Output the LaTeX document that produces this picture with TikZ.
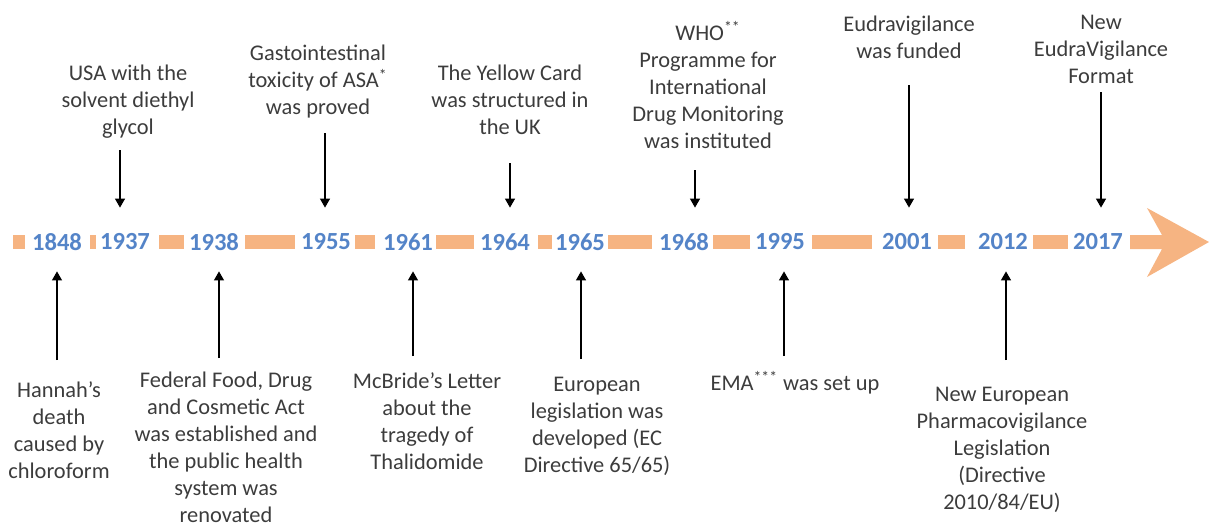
\documentclass[tikz,border=0pt]{standalone}
\usepackage{fontspec}
\setmainfont{Carlito}
\usetikzlibrary{arrows.meta}
\definecolor{bandorange}{RGB}{246,180,130}
\definecolor{yearblue}{RGB}{84,132,200}
\definecolor{notegray}{RGB}{60,60,60}

\begin{document}
\begin{tikzpicture}[x=0.5pt, y=-0.5pt,
    year/.style={font=\fontsize{12.3}{14}\selectfont\bfseries, text=yearblue, inner sep=0pt, minimum height=25pt},
    event/.style={align=center, text=notegray, inner sep=0pt, font=\fontsize{11.2}{13.5}\selectfont},
    band/.style={fill=bandorange},
    toparrow/.style={-{Triangle[width=5pt,length=4.5pt]}, line width=0.6pt, shorten >=4.5pt},
    botarrow/.style={-{Triangle[width=5pt,length=4.5pt]}, line width=0.6pt, shorten >=2pt},
]
    \useasboundingbox (0,0) rectangle (1209,525);

    \foreach \a/\b in {13/25, 90/96, 159/184, 245/295, 355/375, 436/474, 538/552, 608/652, 713/750, 812/872, 938/965, 1033/1068}
        \fill[band] (\a,235) rectangle (\b,249);
    \fill[band] (1130,235) -- (1162,235) -- (1147,208) -- (1209,242) -- (1147,277) -- (1162,249) -- (1130,249) -- cycle;

    \foreach \yr/\x in {1848/57, 1937/125, 1938/214, 1955/326, 1961/408, 1964/505, 1965/580, 1968/684, 1995/780, 2001/907, 2012/1003, 2017/1098}
        \node[year] (y\yr) at (\x,242) {\yr};

    \node[event] (t1937) at (128,102) {USA with the\\solvent diethyl\\glycol};
    \node[event] (t1955) at (318,82) {Gastointestinal\\toxicity of ASA\textsuperscript{*}\\was proved};
    \node[event] (t1964) at (510,100) {The Yellow Card\\was structured in\\the UK};
    \node[event] (t1968) at (708,85) {WHO\textsuperscript{**}\\Programme for\\International\\Drug Monitoring\\was instituted};
    \node[event] (t2001) at (909,37) {Eudravigilance\\was funded};
    \node[event] (t2017) at (1101,49) {New\\EudraVigilance\\Format};

    \node[event] (b1848) at (59,430) {Hannah’s\\death\\caused by\\chloroform};
    \node[event] (b1938) at (226,447) {Federal Food, Drug\\and Cosmetic Act\\was established and\\the public health\\system was\\renovated};
    \node[event] (b1961) at (427,421) {McBride’s Letter\\about the\\tragedy of\\Thalidomide};
    \node[event] (b1965) at (597,426) {European\\legislation was\\developed (EC\\Directive 65/65)};
    \node[event] (b1995) at (795,383) {EMA\textsuperscript{***} was set up};
    \node[event] (b2012) at (1002,450) {New European\\Pharmacovigilance\\Legislation\\(Directive\\2010/84/EU)};

    \coordinate (a1937) at (120,150);
    \coordinate (a1955) at (325,133);
    \coordinate (a1964) at (510,163);
    \coordinate (a1968) at (695,170);
    \coordinate (a2001) at (909,85);
    \coordinate (a2017) at (1101,92);
    \foreach \yr in {1937, 1955, 1964, 1968, 2001, 2017}
        \draw[toparrow] (a\yr) -- (a\yr |- y\yr.north);

    \coordinate (a1848) at (57,360);
    \coordinate (a1938) at (219,358);
    \coordinate (a1961) at (413,356);
    \coordinate (a1965) at (581,359);
    \coordinate (a1995) at (784,356);
    \coordinate (a2012) at (1006,360);
    \foreach \yr in {1848, 1938, 1961, 1965, 1995, 2012}
        \draw[botarrow] (a\yr) -- (a\yr |- y\yr.south);
\end{tikzpicture}
\end{document}
